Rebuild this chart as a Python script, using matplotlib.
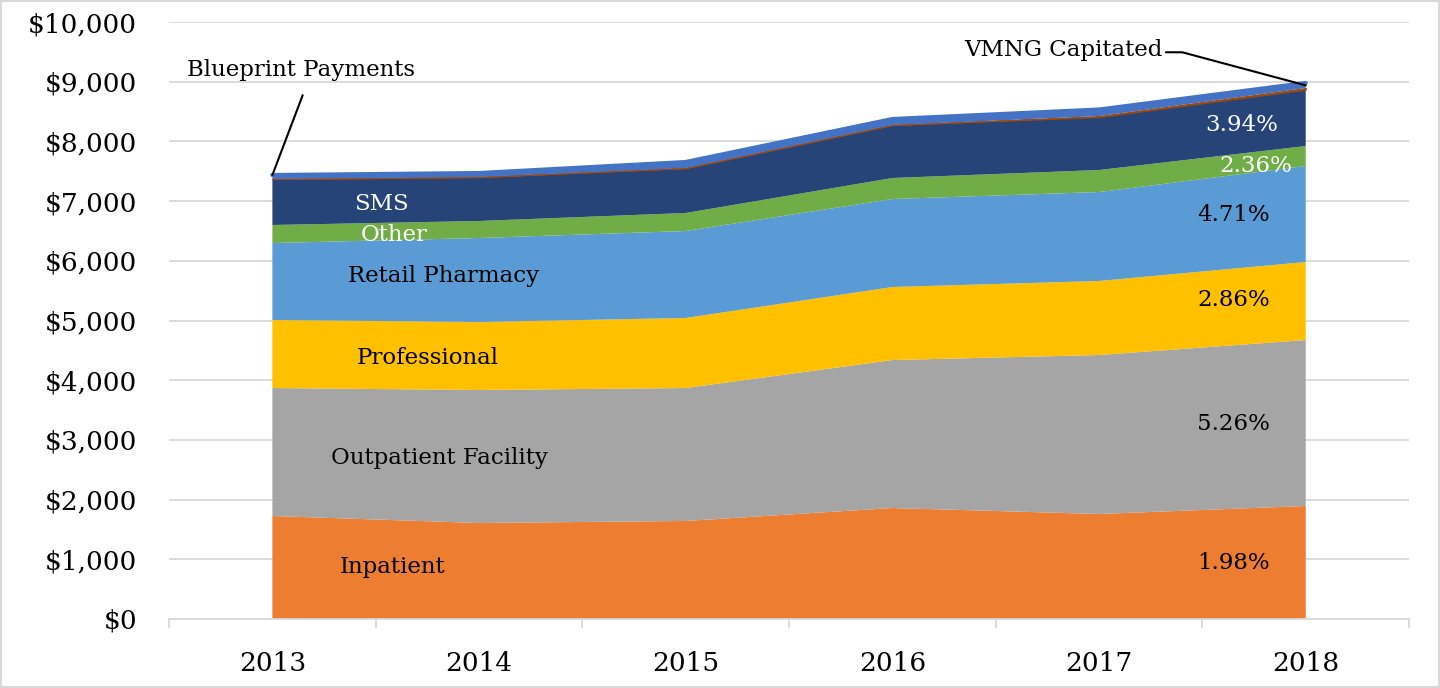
"""Gasto anual por categoria, area empilhada."""

import matplotlib
matplotlib.use("Agg")
import matplotlib.pyplot as plt
from matplotlib.patches import Rectangle
from matplotlib.ticker import FuncFormatter, FixedLocator

years = [2013, 2014, 2015, 2016, 2017, 2018]

inpatient = [1725, 1608, 1642, 1859, 1759, 1893]
outpatient = [2144, 2228, 2227, 2479, 2663, 2780]
professional = [1139, 1139, 1173, 1223, 1240, 1307]
retail_pharmacy = [1290, 1407, 1457, 1474, 1490, 1608]
other = [302, 285, 302, 352, 369, 335]
sms = [770, 737, 753, 888, 888, 946]
vmng_capitated = [0, 0, 0, 0, 15, 25]
blueprint = [67, 66, 101, 100, 110, 85]

series_names = ["Inpatient", "Outpatient Facility", "Professional", "Retail Pharmacy",
                "Other", "SMS", "VMNG Capitated", "Blueprint Payments"]
growth_labels = ["1.98%", "5.26%", "2.86%", "4.71%", "2.36%", "3.94%"]

colors = ["#ED7D31", "#A5A5A5", "#FFC000", "#5B9BD5", "#70AD47", "#264478", "#9E480E", "#4472C4"]

plt.rcParams["font.family"] = ["DejaVu Serif"]

fig = plt.figure(figsize=(14.4, 6.88), dpi=100)
ax = fig.add_axes([0.1174, 0.1003, 0.8611, 0.8677])

stack = [inpatient, outpatient, professional, retail_pharmacy, other, sms, vmng_capitated, blueprint]
polys = ax.stackplot(years, *stack, colors=colors, linewidth=0, zorder=2)
polys[6].set_edgecolor("#9E480E")
polys[6].set_linewidth(0.9)

# linha fina no topo (Blueprint) com pontas arredondadas
total = [sum(v) for v in zip(*stack)]
ax.plot(years, total, color="#4472C4", lw=3, solid_capstyle="round", zorder=3)

ax.set_xlim(2012.5, 2018.5)
ax.set_ylim(0, 10000)
ax.set_yticks(range(0, 10001, 1000))
ax.yaxis.set_major_formatter(FuncFormatter(lambda v, _: f"${v:,.0f}"))
ax.set_xticks(years)
ax.xaxis.set_minor_locator(FixedLocator([y + 0.5 for y in range(2012, 2019)]))

ax.grid(axis="y", color="#D9D9D9", linewidth=1.3, zorder=0)
ax.set_axisbelow(True)
for side in ["top", "right", "left"]:
    ax.spines[side].set_visible(False)
ax.spines["bottom"].set_color("#D9D9D9")
ax.spines["bottom"].set_linewidth(1.3)

ax.tick_params(axis="y", length=0, pad=23, labelsize=19)
ax.tick_params(axis="x", which="major", length=0, pad=23, labelsize=19)
ax.tick_params(axis="x", which="minor", length=6.5, width=1.3, color="#D9D9D9")

# rotulos das categorias dentro das areas
inner_labels = [
    ("Inpatient", 2013.58, 870, "black"),
    ("Outpatient Facility", 2013.81, 2700, "black"),
    ("Professional", 2013.75, 4380, "black"),
    ("Retail Pharmacy", 2013.83, 5750, "black"),
    ("Other", 2013.59, 6430, "white"),
    ("SMS", 2013.53, 6950, "white"),
]
for text, x, y, c in inner_labels:
    ax.text(x, y, text, ha="center", va="center", fontsize=16.5, color=c, zorder=4)

# taxas de crescimento na ponta direita
growth_pos = [(2017.65, 940, "black"), (2017.65, 3270, "black"), (2017.65, 5340, "black"),
              (2017.65, 6770, "black"), (2017.76, 7590, "white"), (2017.69, 8280, "white")]
for label, (x, y, c) in zip(growth_labels, growth_pos):
    ax.text(x, y, label, ha="center", va="center", fontsize=16.5, color=c, zorder=4)

# anotacoes com linha de chamada
ax.annotate("Blueprint Payments", xy=(years[0], total[0]), xytext=(2013.14, 9200),
            ha="center", va="center", fontsize=16.5,
            arrowprops=dict(arrowstyle="-", color="black", lw=1.5,
                            shrinkA=9, shrinkB=0, relpos=(0.53, 0.0)))
ax.annotate("VMNG Capitated", xy=(years[-1], total[-1] - 40), xytext=(2016.83, 9530),
            ha="center", va="center", fontsize=16.5,
            arrowprops=dict(arrowstyle="-", color="black", lw=1.5,
                            connectionstyle="angle,angleA=180,angleB=165,rad=0",
                            shrinkA=0, shrinkB=0, relpos=(1.0, 0.4)))

fig.patches.append(Rectangle((0.001, 0.001), 0.998, 0.998, transform=fig.transFigure,
                             fill=False, edgecolor="#D9D9D9", linewidth=1.5))

fig.savefig("out.png", dpi=100)
plt.close(fig)
